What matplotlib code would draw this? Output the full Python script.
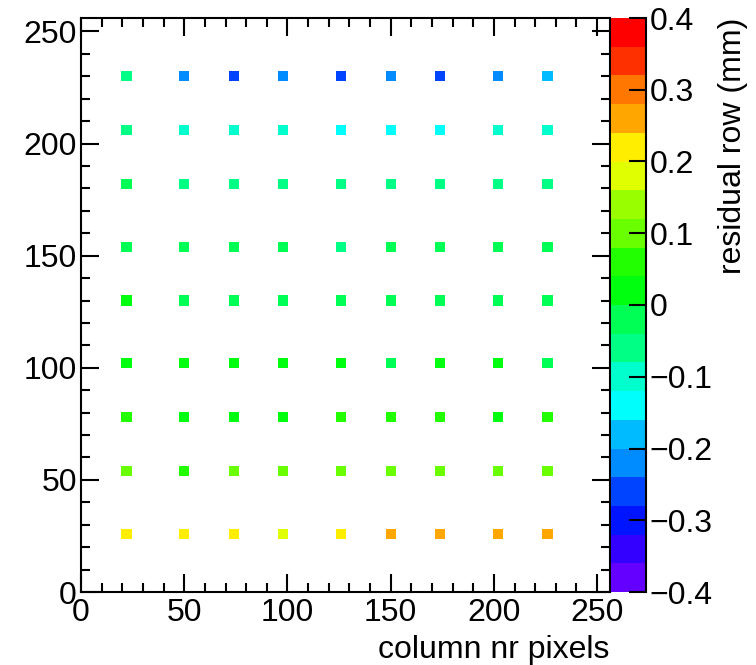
import numpy as np
import matplotlib
matplotlib.use("Agg")
import matplotlib.pyplot as plt
from matplotlib.colors import ListedColormap, BoundaryNorm
from matplotlib.ticker import MultipleLocator
import colorsys

plt.rcParams['font.family'] = ['Liberation Sans', 'DejaVu Sans']

# bin centres (pixels)
col_centres = [22, 50, 74, 98, 126, 150, 174, 202, 226]
row_centres = [230, 206, 182, 154, 130, 102, 78, 54, 26]

# residual row (mm), one list per row of points, top to bottom
res_230 = [-0.06, -0.22, -0.26, -0.22, -0.26, -0.22, -0.26, -0.22, -0.18]
res_206 = [-0.06, -0.10, -0.10, -0.10, -0.14, -0.14, -0.14, -0.10, -0.10]
res_182 = [-0.02, -0.06, -0.06, -0.06, -0.06, -0.06, -0.06, -0.06, -0.06]
res_154 = [-0.02, -0.02, -0.02, -0.02, -0.06, -0.02, -0.02, -0.02, -0.02]
res_130 = [0.02, -0.02, -0.02, -0.02, -0.02, -0.02, -0.02, -0.02, -0.02]
res_102 = [0.02, 0.02, 0.02, 0.02, 0.02, -0.02, 0.02, 0.02, -0.02]
res_78 = [0.06, 0.02, 0.02, 0.02, 0.06, 0.06, 0.06, 0.02, 0.06]
res_54 = [0.10, 0.06, 0.10, 0.10, 0.10, 0.10, 0.10, 0.10, 0.10]
res_26 = [0.22, 0.22, 0.22, 0.18, 0.22, 0.26, 0.26, 0.26, 0.26]

residuals = [res_230, res_206, res_182, res_154, res_130, res_102, res_78, res_54, res_26]

# ROOT "pretty" palette, 20 contours
ncont = 20
cols = []
for k in range(ncont):
    idx = int((k + 0.99) * 50 / ncont)
    hue = 280 - (idx + 1) * 5.6 if idx < 49 else 0.0
    cols.append(colorsys.hls_to_rgb(hue / 360.0, 0.5, 1.0))
cmap = ListedColormap(cols)
levels = np.linspace(-0.4, 0.4, ncont + 1)
norm = BoundaryNorm(levels, cmap.N)

X, Y = np.meshgrid(col_centres, row_centres)
Z = np.array(residuals)

fig = plt.figure(figsize=(7.56, 6.65), dpi=100)
ax = fig.add_axes([81 / 756, 1 - 592 / 665, (609.5 - 81) / 756, (592 - 18) / 665])
cax = fig.add_axes([611 / 756, 1 - 592 / 665, (645.5 - 611) / 756, (592 - 18) / 665])

sc = ax.scatter(X.ravel(), Y.ravel(), c=Z.ravel(), cmap=cmap, norm=norm,
                marker='s', s=55, linewidths=0)
ax.set_xlim(0, 256)
ax.set_ylim(0, 256)

ax.xaxis.set_major_locator(MultipleLocator(50))
ax.xaxis.set_minor_locator(MultipleLocator(10))
ax.yaxis.set_major_locator(MultipleLocator(50))
ax.yaxis.set_minor_locator(MultipleLocator(10))
ax.tick_params(which='both', direction='in', top=True, right=True, width=1.5, labelsize=23)
ax.tick_params(which='major', length=13)
ax.tick_params(which='minor', length=6.5)
ax.tick_params(axis='x', pad=4)
ax.tick_params(axis='y', pad=3)
for sp in ax.spines.values():
    sp.set_linewidth(1.5)

ax.set_xlabel('column nr pixels', fontsize=23)
ax.xaxis.set_label_coords(1.0, -0.075)
ax.xaxis.label.set_horizontalalignment('right')

cbar = fig.colorbar(sc, cax=cax, ticks=[-0.4, -0.3, -0.2, -0.1, 0, 0.1, 0.2, 0.3, 0.4])
cbar.outline.set_visible(False)
cax.plot([1, 1], [0, 1], transform=cax.transAxes, color='k', lw=1.5, clip_on=False)
cax.yaxis.set_major_formatter(plt.FuncFormatter(lambda v, p: '0' if abs(v) < 1e-9 else ('%.1f' % v).replace('-', '\u2212')))
cax.tick_params(direction='in', length=12, width=1.5, labelsize=23, pad=3)
cax.minorticks_off()
cbar.set_label('residual row (mm)', fontsize=23)
cax.yaxis.set_label_coords(3.54, 1.0)
cax.yaxis.label.set_verticalalignment('center')
cax.yaxis.label.set_horizontalalignment('right')

fig.savefig('out.png', dpi=100, facecolor='white')
